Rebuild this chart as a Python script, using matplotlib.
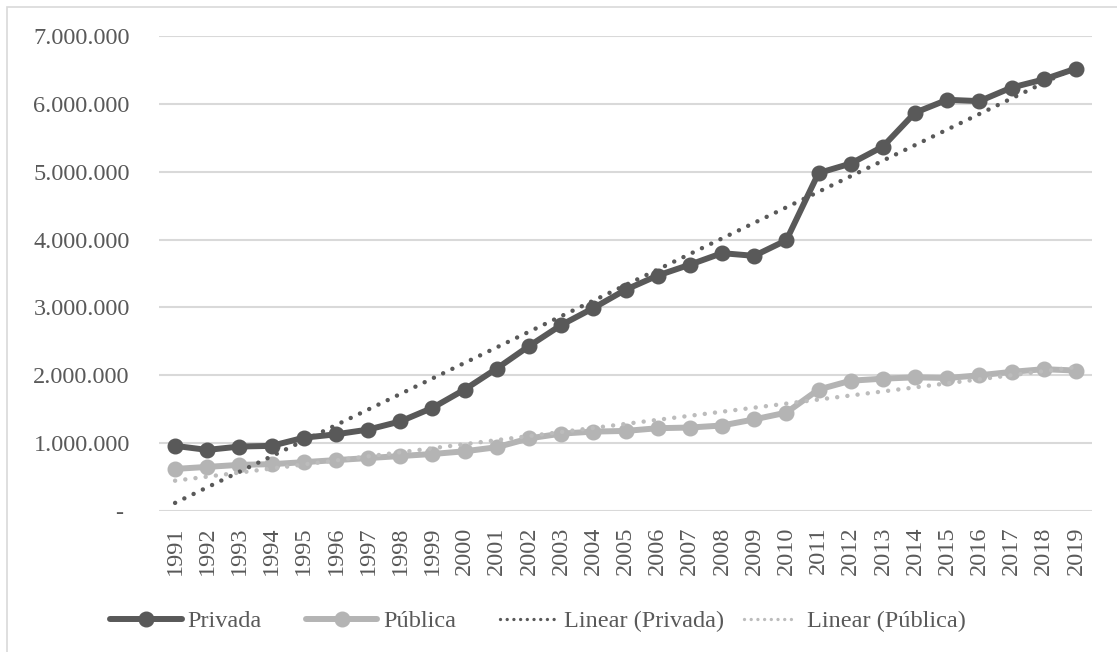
import numpy as np
import matplotlib
matplotlib.use("Agg")
import matplotlib.pyplot as plt
from matplotlib.lines import Line2D
from matplotlib.patches import Rectangle
from matplotlib.ticker import FuncFormatter, MultipleLocator

# Data
years = list(range(1991, 2020))
privada = [960000, 900000, 950000, 960000, 1080000, 1130000, 1200000, 1320000,
           1520000, 1790000, 2100000, 2430000, 2740000, 2990000, 3260000,
           3470000, 3630000, 3800000, 3760000, 3990000, 4980000, 5120000,
           5370000, 5870000, 6060000, 6040000, 6240000, 6360000, 6520000]
publica = [620000, 650000, 680000, 690000, 720000, 750000, 780000, 810000,
           840000, 880000, 940000, 1070000, 1140000, 1170000, 1180000,
           1220000, 1230000, 1260000, 1350000, 1450000, 1790000, 1920000,
           1950000, 1970000, 1960000, 2000000, 2050000, 2090000, 2070000]
series_names = ["Privada", "Pública", "Linear (Privada)", "Linear (Pública)"]

DARK = "#595959"
LIGHT = "#b4b4b4"
TREND_LIGHT = "#bcbcbc"
GRID = "#d9d9d9"
TEXT = "#595959"
DOTS = (0, (0.01, 2.3))

plt.rcParams["font.family"] = ["Liberation Serif", "DejaVu Serif"]

W, H = 1117, 652
fig = plt.figure(figsize=(W / 100, H / 100), dpi=100)
fig.patch.set_facecolor("white")

# chart-area frame
fig.patches.append(Rectangle((6.5 / W, -0.05), 1.2, 1.05 - 7 / H,
                             transform=fig.transFigure, fill=False,
                             edgecolor=GRID, linewidth=1.2, zorder=0))

ax = fig.add_axes([159 / W, 1 - 511 / H, (1092 - 159) / W, (511 - 36) / H])
x = np.arange(len(years))

ax.plot(x, privada, color=DARK, lw=4.3, marker="o", ms=10.5,
        solid_joinstyle="round", solid_capstyle="round", zorder=3)
ax.plot(x, publica, color=LIGHT, lw=4.3, marker="o", ms=10.5,
        solid_joinstyle="round", solid_capstyle="round", zorder=3)

# linear trend lines
for vals, col in ((privada, DARK), (publica, TREND_LIGHT)):
    k, b = np.polyfit(x, vals, 1)
    ax.plot(x[[0, -1]], k * x[[0, -1]] + b, color=col, lw=3.2,
            linestyle=DOTS, dash_capstyle="round", zorder=4)

ax.set_xlim(-0.5, len(years) - 0.5)
ax.set_ylim(0, 7000000)
ax.yaxis.set_major_locator(MultipleLocator(1000000))
ax.yaxis.set_major_formatter(FuncFormatter(
    lambda v, p: "- " if v == 0 else f"{v:,.0f}".replace(",", ".")))
ax.set_xticks(x)
ax.set_xticklabels([str(y) for y in years], rotation=90)

ax.grid(axis="y", color=GRID, lw=1.5)
ax.set_axisbelow(True)
for s in ax.spines.values():
    s.set_visible(False)
ax.tick_params(axis="both", length=0, colors=TEXT, labelsize=17.5)
ax.tick_params(axis="y", pad=21)
ax.tick_params(axis="x", pad=11)

# legend drawn across the bottom of the chart area
ly = 1 - 619 / H
entries = [
    (110, 182, DARK, "o", 187),
    (306, 377, LIGHT, "o", 383),
    (500, 558, DARK, None, 564),
    (744, 796, TREND_LIGHT, None, 807),
]
for (x0, x1, col, mk, tx), name in zip(entries, series_names):
    if mk:
        fig.add_artist(Line2D([x0 / W, x1 / W], [ly, ly], color=col, lw=4.3,
                              solid_capstyle="round", transform=fig.transFigure))
        fig.add_artist(Line2D([(x0 + x1) / 2 / W], [ly], color=col, marker="o",
                              ms=10.5, transform=fig.transFigure))
    else:
        fig.add_artist(Line2D([x0 / W, x1 / W], [ly, ly], color=col, lw=2.4,
                              linestyle=(0, (0.01, 2.0)), dash_capstyle="round",
                              transform=fig.transFigure))
    fig.text(tx / W, ly, name, color=TEXT, fontsize=17.5,
             ha="left", va="center_baseline")

fig.savefig("out.png", dpi=100)
